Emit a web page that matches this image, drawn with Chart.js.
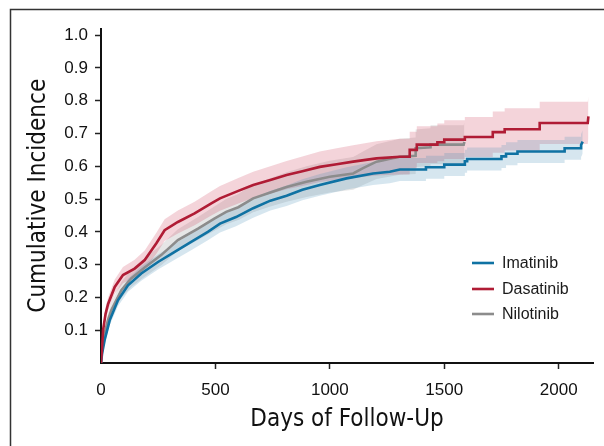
<!DOCTYPE html>
<html>
<head>
<meta charset="utf-8">
<script src="https://cdn.jsdelivr.net/npm/chart.js@4.4.1/dist/chart.umd.min.js"></script>
<style>
  body { margin: 0; background: #fff; }
  canvas { display: block; }
</style>
</head>
<body>
<canvas id="chart" width="604" height="446"></canvas>
<script>
// tick values
const xTicks = [0, 500, 1000, 1500, 2000];
const yTicks = [0.1, 0.2, 0.3, 0.4, 0.5, 0.6, 0.7, 0.8, 0.9, 1.0];

// Imatinib (blue)
const imatinibDays = [0, 5, 16, 38, 74, 118, 176, 249, 322, 394, 467, 520, 590, 665, 740, 811, 880, 956, 1073, 1189, 1262, 1306,
  1420, 1420, 1500, 1500, 1590, 1590, 1600, 1600, 1750, 1750, 1770, 1770, 1820, 1820, 2026, 2026, 2098, 2098, 2105];
const imatinibInc = [0, 0.03, 0.07, 0.13, 0.191, 0.237, 0.273, 0.308, 0.339, 0.369, 0.40, 0.425, 0.445, 0.472, 0.495, 0.51, 0.528, 0.543, 0.563, 0.578, 0.583, 0.59,
  0.59, 0.597, 0.597, 0.605, 0.605, 0.615, 0.615, 0.622, 0.622, 0.63, 0.63, 0.638, 0.638, 0.645, 0.645, 0.655, 0.655, 0.665, 0.675];
const imatinibLow = [0, 0.022, 0.058, 0.115, 0.173, 0.217, 0.251, 0.285, 0.315, 0.344, 0.374, 0.398, 0.417, 0.443, 0.465, 0.479, 0.496, 0.51, 0.529, 0.543, 0.548, 0.555,
  0.555, 0.562, 0.562, 0.57, 0.57, 0.58, 0.58, 0.587, 0.587, 0.595, 0.595, 0.603, 0.603, 0.61, 0.61, 0.62, 0.62, 0.628, 0.638];
const imatinibHigh = [0, 0.038, 0.082, 0.145, 0.209, 0.257, 0.295, 0.331, 0.363, 0.394, 0.426, 0.452, 0.473, 0.501, 0.525, 0.541, 0.56, 0.576, 0.597, 0.613, 0.618, 0.625,
  0.625, 0.632, 0.632, 0.64, 0.64, 0.65, 0.65, 0.657, 0.657, 0.665, 0.665, 0.673, 0.673, 0.68, 0.68, 0.69, 0.69, 0.698, 0.71];

// Dasatinib (red)
const dasatinibDays = [0, 5, 9, 20, 31, 60, 96, 147, 191, 242, 278, 336, 409, 482, 520, 600, 665, 740, 811, 880, 956, 1030, 1102, 1204, 1306,
  1349, 1349, 1380, 1380, 1470, 1470, 1500, 1500, 1590, 1590, 1712, 1712, 1764, 1764, 1917, 1917, 2127, 2130];
const dasatinibInc = [0, 0.05, 0.10, 0.15, 0.18, 0.232, 0.268, 0.288, 0.314, 0.365, 0.405, 0.43, 0.456, 0.487, 0.502, 0.525, 0.543, 0.558, 0.573, 0.585, 0.598, 0.606, 0.614, 0.624, 0.629,
  0.629, 0.65, 0.65, 0.666, 0.666, 0.673, 0.673, 0.681, 0.681, 0.689, 0.689, 0.704, 0.704, 0.713, 0.713, 0.732, 0.732, 0.752];
const dasatinibLow = [0, 0.04, 0.085, 0.13, 0.16, 0.21, 0.243, 0.261, 0.285, 0.333, 0.372, 0.395, 0.42, 0.45, 0.464, 0.486, 0.503, 0.516, 0.53, 0.54, 0.552, 0.558, 0.564, 0.572, 0.575,
  0.575, 0.594, 0.594, 0.61, 0.61, 0.615, 0.615, 0.622, 0.622, 0.628, 0.628, 0.641, 0.641, 0.648, 0.648, 0.668, 0.668, 0.685];
const dasatinibHigh = [0, 0.06, 0.115, 0.17, 0.20, 0.255, 0.293, 0.315, 0.343, 0.397, 0.438, 0.465, 0.492, 0.524, 0.54, 0.564, 0.583, 0.6, 0.616, 0.63, 0.645, 0.655, 0.664, 0.676, 0.684,
  0.684, 0.705, 0.705, 0.722, 0.722, 0.73, 0.73, 0.74, 0.74, 0.75, 0.75, 0.767, 0.767, 0.777, 0.777, 0.797, 0.797, 0.813];

// Nilotinib (gray)
const nilotinibDays = [0, 5, 16, 30, 45, 89, 132, 191, 263, 336, 424, 497, 547, 600, 665, 740, 811, 898, 1000, 1102, 1145, 1204, 1306,
  1375, 1375, 1440, 1440, 1585, 1588];
const nilotinibInc = [0, 0.04, 0.09, 0.13, 0.161, 0.222, 0.258, 0.291, 0.329, 0.375, 0.41, 0.441, 0.461, 0.475, 0.502, 0.52, 0.537, 0.553, 0.568, 0.578, 0.594, 0.614, 0.629,
  0.632, 0.655, 0.658, 0.666, 0.666, 0.674];
const nilotinibLow = [0, 0.03, 0.075, 0.11, 0.14, 0.198, 0.232, 0.263, 0.298, 0.342, 0.375, 0.404, 0.423, 0.436, 0.46, 0.477, 0.492, 0.506, 0.52, 0.528, 0.543, 0.561, 0.574,
  0.576, 0.598, 0.6, 0.607, 0.607, 0.614];
const nilotinibHigh = [0, 0.05, 0.105, 0.15, 0.183, 0.247, 0.285, 0.32, 0.36, 0.408, 0.445, 0.478, 0.5, 0.515, 0.544, 0.563, 0.582, 0.6, 0.617, 0.628, 0.645, 0.667, 0.684,
  0.688, 0.712, 0.716, 0.725, 0.725, 0.734];

const BLUE = '#0f72a3';
const RED = '#b01c35';
const GRAY = '#8c8c8c';

function pts(xs, ys) {
  return xs.map((x, i) => ({ x: x, y: ys[i] }));
}

function lineSet(label, xs, ys, color, order) {
  return {
    label: label,
    data: pts(xs, ys),
    borderColor: color,
    borderWidth: 2.6,
    pointRadius: 0,
    tension: 0,
    fill: false,
    order: order
  };
}

function bandSets(xs, low, high, fillColor) {
  return [
    { label: 'ci-high', data: pts(xs, high), borderWidth: 0, pointRadius: 0, tension: 0,
      backgroundColor: fillColor, fill: '+1', order: 5 },
    { label: 'ci-low', data: pts(xs, low), borderWidth: 0, pointRadius: 0, tension: 0,
      fill: false, order: 5 }
  ];
}

const datasets = [
  lineSet('Imatinib', imatinibDays, imatinibInc, BLUE, 1),
  lineSet('Dasatinib', dasatinibDays, dasatinibInc, RED, 0),
  lineSet('Nilotinib', nilotinibDays, nilotinibInc, GRAY, 2),
  ...bandSets(imatinibDays, imatinibLow, imatinibHigh, 'rgba(70,140,180,0.22)'),
  ...bandSets(dasatinibDays, dasatinibLow, dasatinibHigh, 'rgba(205,60,85,0.22)'),
  ...bandSets(nilotinibDays, nilotinibLow, nilotinibHigh, 'rgba(140,140,140,0.22)')
];

// outer frame + in-plot legend
const framePlugin = {
  id: 'frame',
  afterDraw(chart) {
    const ctx = chart.ctx;
    ctx.save();
    ctx.strokeStyle = '#333';
    ctx.lineWidth = 1.5;
    ctx.strokeRect(10.5, 9.5, 700, 700);

    const items = chart.data.datasets.slice(0, 3);
    const ys = [263, 289, 314];
    ctx.font = '16px "Liberation Sans", Arial, sans-serif';
    ctx.textBaseline = 'middle';
    ctx.fillStyle = '#1a1a1a';
    items.forEach((ds, i) => {
      ctx.strokeStyle = ds.borderColor;
      ctx.lineWidth = 2.6;
      ctx.beginPath();
      ctx.moveTo(472, ys[i]);
      ctx.lineTo(494, ys[i]);
      ctx.stroke();
      ctx.fillText(ds.label, 502, ys[i] + 1);
    });
    ctx.restore();
  }
};

new Chart(document.getElementById('chart'), {
  type: 'line',
  data: { datasets: datasets },
  options: {
    responsive: false,
    animation: false,
    devicePixelRatio: 1,
    layout: { padding: { top: 28.5, right: 11, left: 0, bottom: 0 } },
    plugins: {
      legend: { display: false },
      tooltip: { enabled: false }
    },
    scales: {
      x: {
        type: 'linear',
        min: 0,
        max: 2150,
        afterBuildTicks: (scale) => { scale.ticks = xTicks.map(v => ({ value: v })); },
        afterFit: (scale) => { scale.height = 83; },
        ticks: {
          padding: 11,
          color: '#111',
          font: { family: '"Liberation Sans", Arial, sans-serif', size: 17 },
          callback: (v) => String(v)
        },
        grid: {
          drawOnChartArea: false,
          drawTicks: true,
          tickLength: 6,
          tickWidth: 1.5,
          color: (c) => (c.tick && c.tick.value === 0 ? 'rgba(0,0,0,0)' : '#222')
        },
        border: { display: true, color: '#111', width: 2 },
        title: {
          display: true,
          text: 'Days of Follow-Up',
          color: '#111',
          font: { family: '"DejaVu Sans Condensed", sans-serif', size: 24 },
          padding: { top: 0, bottom: 12 }
        }
      },
      y: {
        min: 0,
        max: 1.02,
        afterBuildTicks: (scale) => { scale.ticks = yTicks.map(v => ({ value: v })); },
        afterFit: (scale) => { scale.width = 101; },
        ticks: {
          padding: 7,
          color: '#111',
          font: { family: '"Liberation Sans", Arial, sans-serif', size: 17 },
          callback: (v) => v.toFixed(1)
        },
        grid: {
          drawOnChartArea: false,
          drawTicks: true,
          tickLength: 6,
          tickWidth: 1.5,
          color: '#222'
        },
        border: { display: true, color: '#111', width: 2 },
        title: {
          display: true,
          text: 'Cumulative Incidence',
          color: '#111',
          font: { family: '"DejaVu Sans Condensed", sans-serif', size: 24 },
          padding: { top: 24, bottom: 0 }
        }
      }
    }
  },
  plugins: [framePlugin]
});
</script>
</body>
</html>
